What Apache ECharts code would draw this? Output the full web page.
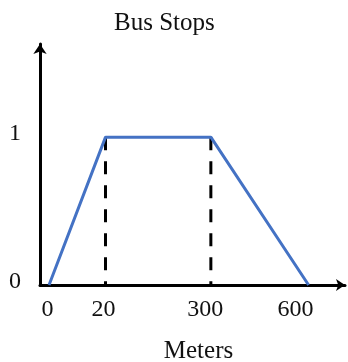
<!DOCTYPE html>
<html>
<head>
<meta charset="utf-8">
<script src="https://cdn.jsdelivr.net/npm/echarts@6/dist/echarts.min.js"></script>
<style>
  html, body { margin: 0; padding: 0; background: #fff; }
  #chart { width: 348px; height: 362px; }
</style>
</head>
<body>
<div id="chart"></div>
<script>
// Trapezoidal membership function: distance to bus stops
const meters = [0, 20, 300, 600];
const membership = [0, 1, 1, 0];
const xTicks = [0, 20, 300, 600];
const yTicks = [0, 1];
const guideAt = [20, 300];

const FONT = '"Liberation Serif", "Times New Roman", serif';
const labelText = { fontFamily: FONT, fontSize: 24, color: '#111' };

const chart = echarts.init(document.getElementById('chart'), null, { renderer: 'canvas' });

const guides = guideAt.map(function (m) {
  return {
    type: 'line',
    data: [[m, 1], [m, 0]],
    symbol: 'none',
    silent: true,
    z: 1,
    lineStyle: { color: '#000', width: 3, type: [13, 11] }
  };
});

chart.setOption({
  animation: false,
  title: {
    text: 'Bus Stops',
    left: 114,
    top: 11,
    padding: 0,
    textStyle: { fontFamily: FONT, fontSize: 25, fontWeight: 'normal', color: '#111' }
  },
  grid: { left: 40, right: 3, top: 44, bottom: 77, outerBoundsMode: 'none', containLabel: false },
  xAxis: [{
    // not-to-scale distance axis: the long spans are compressed
    type: 'value',
    min: -3.2,
    max: 612.9,
    breaks: [
      { start: 22, end: 298, gap: 33.3 },
      { start: 302, end: 598, gap: 30.6 }
    ],
    breakArea: { show: false },
    name: 'Meters',
    nameLocation: 'middle',
    nameGap: 54,
    nameTextStyle: { fontFamily: FONT, fontSize: 25, color: '#111', padding: [0, 0, 0, 12] },
    axisLine: { show: false },
    axisTick: { show: false },
    splitLine: { show: false },
    axisLabel: {
      customValues: xTicks,
      margin: 13,
      fontFamily: FONT,
      fontSize: 24,
      color: '#111',
      formatter: function (v) {
        if (v >= 600) return '{far|' + v + '}';
        if (v >= 300) return '{mid|' + v + '}';
        if (v >= 20) return '{near|' + v + '}';
        return '{zero|' + v + '}';
      },
      rich: {
        zero: Object.assign({ padding: [0, 3, 0, 0] }, labelText),
        near: Object.assign({ padding: [0, 4, 0, 0] }, labelText),
        mid: Object.assign({ padding: [0, 11, 0, 0] }, labelText),
        far: Object.assign({ padding: [0, 26, 0, 0] }, labelText)
      }
    }
  }, {
    // continuous baseline with arrow head
    type: 'value',
    position: 'bottom',
    min: 0,
    max: 1,
    axisLine: {
      show: true,
      onZero: false,
      lineStyle: { color: '#000', width: 3 },
      symbol: ['none', 'arrow'],
      symbolSize: [9, 9]
    },
    axisTick: { show: false },
    axisLabel: { show: false },
    splitLine: { show: false }
  }],
  yAxis: {
    type: 'value',
    min: 0,
    max: 1.63,
    axisLine: {
      show: true,
      onZero: false,
      lineStyle: { color: '#000', width: 3 },
      symbol: ['none', 'arrow'],
      symbolSize: [10, 10]
    },
    axisTick: { show: false },
    splitLine: { show: false },
    axisLabel: {
      customValues: yTicks,
      margin: 19,
      fontFamily: FONT,
      fontSize: 24,
      color: '#111',
      formatter: function (v) { return '{v|' + v + '}'; },
      rich: {
        v: Object.assign({ padding: [0, 0, 7, 0] }, labelText)
      }
    }
  },
  series: guides.concat([{
    type: 'line',
    data: meters.map(function (m, i) { return [m, membership[i]]; }),
    symbol: 'none',
    z: 3,
    lineStyle: { color: '#4472C4', width: 3 }
  }])
});
</script>
</body>
</html>
